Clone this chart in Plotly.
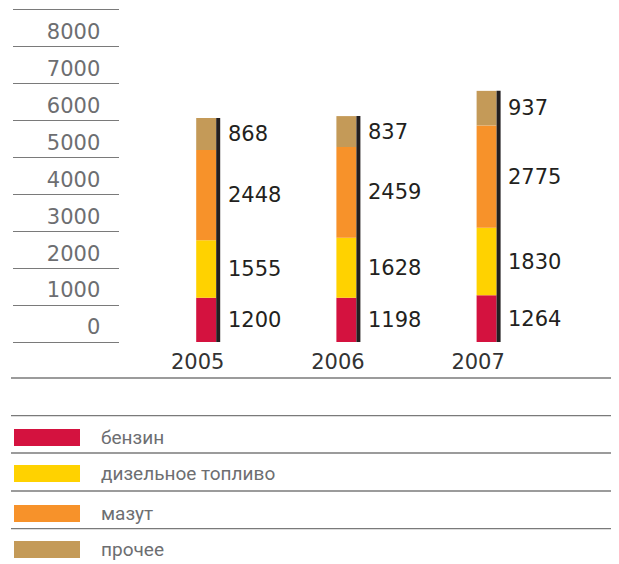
import numpy as np
import plotly.graph_objects as go

# ---- data ----
years = ["2005", "2006", "2007"]
series_names = ["бензин", "дизельное топливо", "мазут", "прочее"]
benzin = [1200, 1198, 1264]
diesel = [1555, 1628, 1830]
mazut = [2448, 2459, 2775]
other = [868, 837, 937]
axis_ticks = [0, 1000, 2000, 3000, 4000, 5000, 6000, 7000, 8000, 9000]
axis_ticktext = ["0", "1000", "2000", "3000", "4000", "5000", "6000", "7000", "8000", ""]

# ---- style ----
colors = ["#D4123F", "#FFD200", "#F7922A", "#C49A58"]
OFF = 8                      # page body margin
W, H = 619 - OFF, 564 - OFF
PX_PER_K = 36.9              # pixels per 1000 units
ZERO_PX = 342.0 - OFF        # pixel row of value 0
BELOW = 5.0                  # extra pixels of axis range below zero
CAT_PX0, CAT_STEP = 197.7 - OFF, 140.2
px_unit = 1.0 / CAT_STEP

values = [benzin, diesel, mazut, other]
arr = np.array(values, dtype=float)
bases = np.vstack([np.zeros(arr.shape[1]), np.cumsum(arr, axis=0)[:-1]])
totals = arr.sum(axis=0)

k = 1000 / PX_PER_K          # data units per pixel
ymax = ZERO_PX * k
ymin = -BELOW * k
ydom = [(H - ZERO_PX - BELOW) / H, 1.0]
xspan = W / CAT_STEP
xmin = -CAT_PX0 / CAT_STEP

def py(p):
    return 1 - (p - OFF) / H

def px(p):
    return (p - OFF) / W

fig = go.Figure()

# invisible trace to instantiate the tick-grid subplot
fig.add_trace(go.Scatter(x=[0], y=[0], xaxis="x", yaxis="y", mode="markers",
                         marker=dict(opacity=0), hoverinfo="skip", showlegend=False))

xidx = list(range(len(years)))
for name, vals, b, c in zip(series_names, values, bases, colors):
    fig.add_trace(go.Bar(
        x=xidx, y=vals, base=b, name=name, marker=dict(color=c, line=dict(width=0)),
        offset=-1.5 * px_unit, width=20 * px_unit, xaxis="x2", yaxis="y2",
        showlegend=False, hoverinfo="y+name"))

fig.add_trace(go.Bar(
    x=xidx, y=totals, marker=dict(color="#231F20", line=dict(width=0)),
    offset=18.5 * px_unit, width=4 * px_unit, xaxis="x2", yaxis="y2",
    showlegend=False, hoverinfo="skip"))

# value labels
for vals, b in zip(values, bases):
    for i, (v, bb) in enumerate(zip(vals, b)):
        fig.add_annotation(x=i, y=bb + v / 2, xref="x2", yref="y2", text=str(v),
                           showarrow=False, xanchor="left", yanchor="middle", xshift=28,
                           font=dict(family="DejaVu Sans", size=21, color="#231F20"))

# separator lines (legend area)
for yy in [378, 415.7, 453, 491, 528.7]:
    fig.add_shape(type="line", xref="paper", yref="paper", x0=px(11), x1=1.0,
                  y0=py(yy), y1=py(yy), line=dict(color="#7a7a7a", width=1.3))

# legend
sw_top = [429, 465, 505, 541]
for name, c, t in zip(series_names, colors, sw_top):
    fig.add_shape(type="rect", xref="paper", yref="paper", x0=px(14), x1=px(80),
                  y0=py(t + 17), y1=py(t), fillcolor=c, line=dict(width=0))
    fig.add_annotation(x=px(99), y=py(t + 8.5), xref="paper", yref="paper",
                       text=name, showarrow=False, xanchor="left", yanchor="middle",
                       font=dict(family="Roboto", size=19, color="#6d6e71"))

fig.update_layout(
    width=W, height=H, margin=dict(l=0, r=0, t=0, b=0),
    paper_bgcolor="white", plot_bgcolor="rgba(0,0,0,0)",
    barmode="overlay", showlegend=False,
    xaxis=dict(domain=[px(13.3), px(119.3)], anchor="y", range=[0, 1], visible=False,
               showgrid=False, zeroline=False),
    yaxis=dict(domain=ydom, anchor="x", range=[ymin, ymax], side="right",
               tickvals=axis_ticks, ticktext=axis_ticktext,
               ticklabelposition="inside", ticklabelstandoff=16, ticklabelshift=-15,
               ticks="", showgrid=True, gridcolor="#7a7a7a", gridwidth=1.3,
               zeroline=False, showline=False,
               tickfont=dict(family="DejaVu Sans", size=21, color="#6d6e71")),
    xaxis2=dict(domain=[0, 1], anchor="y2", range=[xmin, xmin + xspan],
                tickvals=xidx, ticktext=years, ticks="", showgrid=False,
                zeroline=False, showline=False, ticklabelstandoff=0,
                tickfont=dict(family="DejaVu Sans", size=21, color="#333333")),
    yaxis2=dict(domain=ydom, anchor="x2", matches="y", visible=False,
                showgrid=False, zeroline=False),
)

fig.write_html("out.html")
